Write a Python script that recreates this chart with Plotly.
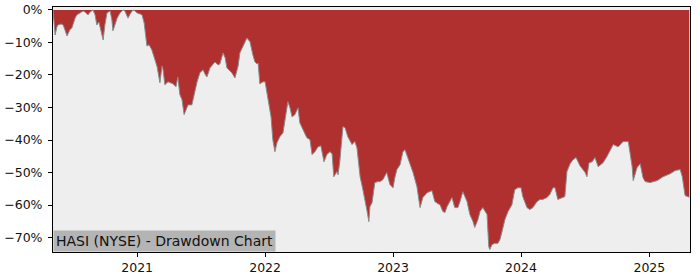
import plotly.graph_objects as go
import numpy as np

dates = [
    "2020-05-06", "2020-05-09", "2020-05-12", "2020-05-17", "2020-05-20", "2020-05-29",
    "2020-06-04", "2020-06-09", "2020-06-15", "2020-06-23", "2020-06-29", "2020-07-08",
    "2020-07-13", "2020-07-22", "2020-07-31", "2020-08-05", "2020-08-14", "2020-08-20",
    "2020-08-28", "2020-09-03", "2020-09-08", "2020-09-14", "2020-09-20", "2020-09-26",
    "2020-10-01", "2020-10-07", "2020-10-16", "2020-10-21", "2020-10-24", "2020-10-30",
    "2020-11-05", "2020-11-13", "2020-11-22", "2020-11-27", "2020-12-06", "2020-12-12",
    "2020-12-20", "2020-12-26", "2021-01-01",
    "2021-01-09", "2021-01-15", "2021-01-21", "2021-01-29", "2021-02-04", "2021-02-12",
    "2021-02-21", "2021-02-27", "2021-03-07", "2021-03-13", "2021-03-16", "2021-03-21",
    "2021-03-30", "2021-04-08", "2021-04-13", "2021-04-22", "2021-04-27", "2021-05-03",
    "2021-05-09", "2021-05-15", "2021-05-20", "2021-05-26", "2021-06-06", "2021-06-15",
    "2021-06-21", "2021-06-29", "2021-07-08", "2021-07-13", "2021-07-19", "2021-07-28",
    "2021-08-05", "2021-08-11", "2021-08-20", "2021-08-25", "2021-09-03", "2021-09-09",
    "2021-09-14", "2021-09-23", "2021-09-28", "2021-10-07", "2021-10-13", "2021-10-16",
    "2021-10-21", "2021-10-27", "2021-11-05", "2021-11-10", "2021-11-19", "2021-11-27",
    "2021-12-03", "2021-12-09", "2021-12-12", "2021-12-17", "2021-12-26", "2022-01-01",
    "2022-01-09", "2022-01-18", "2022-01-23", "2022-01-29", "2022-02-04", "2022-02-12",
    "2022-02-21", "2022-03-01", "2022-03-07", "2022-03-13", "2022-03-19", "2022-03-27",
    "2022-04-05", "2022-04-10", "2022-04-19", "2022-04-25", "2022-04-30", "2022-05-09",
    "2022-05-15", "2022-05-23", "2022-06-01", "2022-06-09", "2022-06-18", "2022-06-26",
    "2022-07-05", "2022-07-11", "2022-07-16", "2022-07-25", "2022-07-28", "2022-08-02",
    "2022-08-08", "2022-08-11", "2022-08-17", "2022-08-25", "2022-09-06", "2022-09-14",
    "2022-09-20", "2022-09-29", "2022-10-07", "2022-10-13", "2022-10-18", "2022-10-24",
    "2022-10-27", "2022-11-02", "2022-11-10", "2022-11-19", "2022-11-25", "2022-12-03",
    "2022-12-14", "2022-12-23", "2023-01-01",
    "2023-01-06", "2023-01-12", "2023-01-21", "2023-01-29", "2023-02-04", "2023-02-12",
    "2023-02-18", "2023-02-27", "2023-03-10", "2023-03-19", "2023-03-27", "2023-04-08",
    "2023-04-22", "2023-04-30", "2023-05-09", "2023-05-15", "2023-05-23", "2023-05-29",
    "2023-06-04", "2023-06-18", "2023-06-26", "2023-07-05", "2023-07-11", "2023-07-19",
    "2023-07-31", "2023-08-08", "2023-08-17", "2023-08-22", "2023-08-31", "2023-09-06",
    "2023-09-14", "2023-09-26", "2023-10-01", "2023-10-04", "2023-10-10", "2023-10-18",
    "2023-10-27", "2023-11-02", "2023-11-07", "2023-11-16", "2023-11-25", "2023-12-06",
    "2023-12-14", "2023-12-23", "2024-01-01",
    "2024-01-06", "2024-01-18", "2024-01-26", "2024-02-04", "2024-02-15", "2024-02-24",
    "2024-03-03", "2024-03-15", "2024-03-23", "2024-04-01", "2024-04-07", "2024-04-15",
    "2024-04-27", "2024-05-05", "2024-05-11", "2024-05-20", "2024-05-28", "2024-06-06",
    "2024-06-17", "2024-07-02", "2024-07-07", "2024-07-13", "2024-07-22", "2024-07-30",
    "2024-08-08", "2024-08-22", "2024-09-02", "2024-09-11", "2024-09-20", "2024-10-04",
    "2024-10-10", "2024-10-18", "2024-11-02", "2024-11-07", "2024-11-13", "2024-11-16",
    "2024-11-27", "2024-12-06", "2024-12-14", "2024-12-20", "2025-01-03", "2025-01-23",
    "2025-02-09", "2025-03-01", "2025-03-16", "2025-03-30", "2025-04-05", "2025-04-13",
    "2025-04-22", "2025-04-25",
]

drawdown_pct = [
    0.0, -3.1, -7.7, -5.2, -4.6, -4.3,
    -4.6, -6.1, -8.0, -6.1, -5.5, -2.5,
    -1.5, -0.9, -0.3, -0.6, -1.5, -0.6,
    0.0, -1.5, -4.6, -3.7, -6.1, -9.2,
    -4.6, -0.9, -0.3, -3.1, -6.4, -4.6,
    -2.5, -0.9, 0.0, -0.3, -2.5, -1.2,
    0.0, -0.3, -0.9,
    -1.2, -1.5, -4.0, -11.1, -10.7, -12.3,
    -15.4, -17.5, -22.4, -17.2, -18.4, -23.0,
    -22.1, -22.4, -22.7, -23.6, -20.6, -26.1,
    -27.6, -32.2, -30.7, -29.2, -29.2, -24.6,
    -22.1, -19.3, -18.4, -19.6, -20.6, -17.8,
    -16.9, -16.0, -16.9, -16.6, -13.2, -14.7,
    -17.8, -19.0, -19.3, -20.9, -18.4, -17.2,
    -13.2, -12.0, -9.8, -8.6, -9.8, -13.8,
    -16.0, -16.6, -16.3, -22.7, -22.1, -22.1,
    -27.6, -32.9, -39.9, -43.6, -40.8, -39.0,
    -37.8, -31.6, -28.2, -30.1, -32.9, -32.2,
    -30.1, -34.7, -36.8, -37.8, -39.3, -39.9,
    -44.5, -43.6, -42.1, -41.8, -46.7, -44.5,
    -43.6, -44.2, -51.3, -49.7, -50.7, -46.7,
    -39.3, -35.9, -36.2, -39.0, -41.4, -40.5,
    -42.4, -51.3, -55.3, -58.3, -61.4, -65.1,
    -60.5, -59.3, -53.1, -52.8, -52.8, -52.2,
    -50.0, -53.7, -54.7,
    -51.6, -49.1, -47.6, -43.6, -43.0, -45.4,
    -47.0, -50.0, -54.3, -60.8, -57.7, -56.2,
    -55.6, -58.9, -59.6, -59.9, -62.0, -62.3,
    -60.5, -57.7, -60.8, -60.8, -58.9, -55.9,
    -58.9, -62.9, -65.1, -66.9, -64.5, -62.0,
    -60.8, -62.9, -72.8, -73.7, -72.2, -71.8,
    -71.8, -70.6, -68.5, -64.5, -62.0, -59.9,
    -55.3, -54.7, -54.7,
    -57.4, -60.8, -61.4, -60.8, -59.0, -58.3,
    -58.3, -57.7, -56.8, -54.7, -54.7, -58.3,
    -57.7, -57.4, -49.7, -47.3, -46.1, -45.4,
    -47.9, -50.0, -51.3, -47.0, -46.7, -45.4,
    -48.2, -47.0, -45.1, -43.0, -41.4, -42.1,
    -41.4, -40.5, -40.5, -43.9, -48.2, -52.5,
    -48.5, -47.3, -51.6, -52.8, -53.1, -52.5,
    -51.3, -50.4, -49.4, -49.1, -51.3, -57.1,
    -57.4, -57.6,
]

y_tick_vals = [0.0, -0.1, -0.2, -0.3, -0.4, -0.5, -0.6, -0.7]
y_tick_text = ["0%", "\u221210%", "\u221220%", "\u221230%", "\u221240%",
               "\u221250%", "\u221260%", "\u221270%"]
x_tick_vals = ["2021-01-01", "2022-01-01", "2023-01-01", "2024-01-01", "2025-01-01"]
x_tick_text = ["2021", "2022", "2023", "2024", "2025"]
chart_label = "HASI (NYSE) - Drawdown Chart"

dd = np.array(drawdown_pct) / 100.0

fig = go.Figure()
fig.add_trace(go.Scatter(
    x=dates, y=dd, mode="lines", fill="tozeroy",
    fillcolor="#B03030", line=dict(color="#8a8a8a", width=1),
    hoverinfo="skip", showlegend=False,
))

axis_common = dict(
    showline=True, linecolor="black", linewidth=1, mirror=True,
    ticks="outside", ticklen=4, tickcolor="black", tickwidth=1,
    showgrid=False, zeroline=False, automargin=False,
    tickfont=dict(family="DejaVu Sans", size=12.5, color="#111111"),
)

fig.update_layout(
    width=700, height=280,
    margin=dict(l=53, r=10, t=7, b=28),
    paper_bgcolor="white", plot_bgcolor="#EEEEEE",
    font=dict(family="DejaVu Sans", size=12, color="#111111"),
    xaxis=dict(range=["2020-05-06", "2025-04-27"], tickvals=x_tick_vals,
               ticktext=x_tick_text, **axis_common),
    yaxis=dict(range=[-0.7446, 0.0092], tickvals=y_tick_vals, ticktext=y_tick_text,
               ticklabelstandoff=3, **axis_common),
    annotations=[dict(
        text=chart_label, xref="paper", yref="paper", x=0, y=0,
        xanchor="left", yanchor="bottom", showarrow=False,
        bgcolor="#B4B4B4", borderpad=2,
        font=dict(family="DejaVu Sans", size=14, color="#111111"),
    )],
)

fig.write_html("out.html")
